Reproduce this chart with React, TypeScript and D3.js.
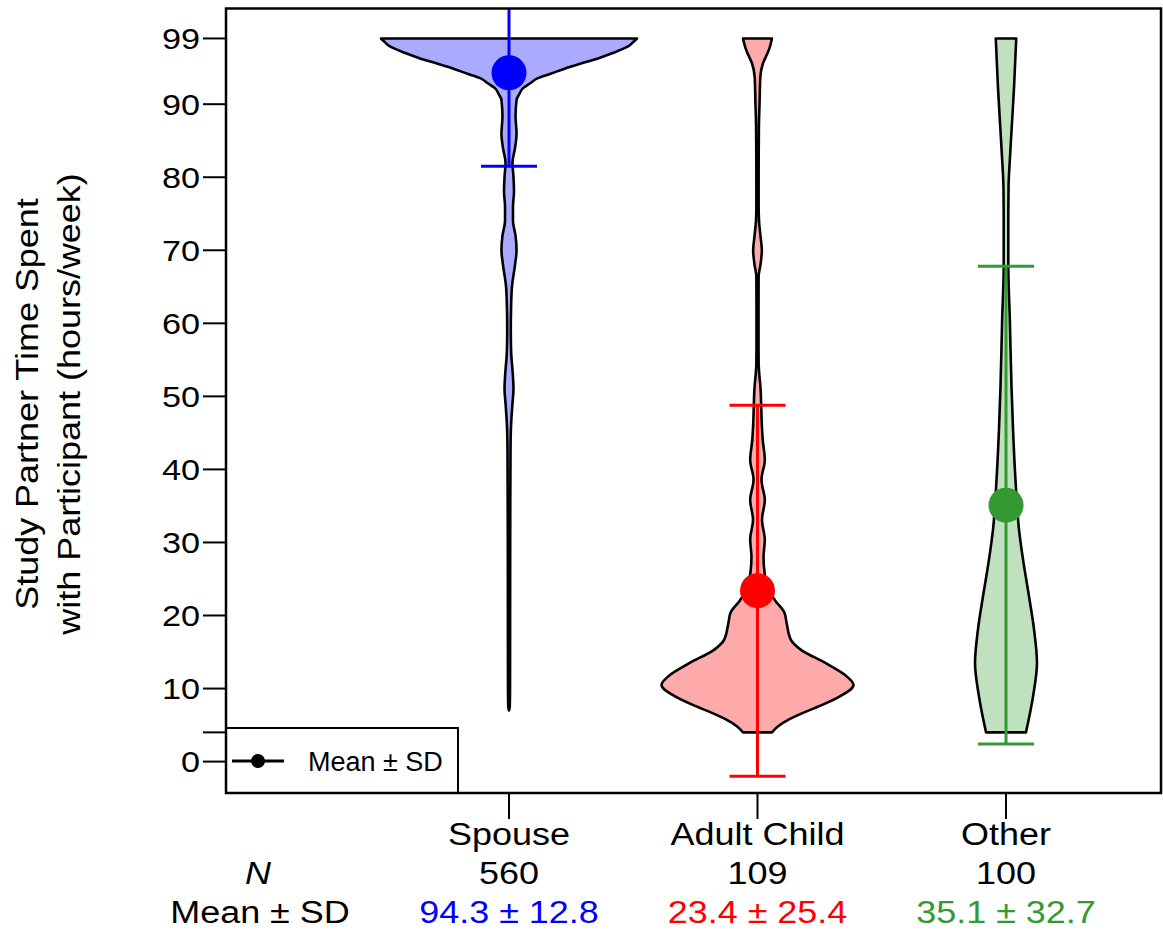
import React from "react";
import * as d3 from "d3";

const categories = ["Spouse", "Adult Child", "Other"];
const counts = [560, 109, 100];
const means = [94.3, 23.4, 35.1];
const sds = [12.8, 25.4, 32.7];
const lineColors = ["#0000FF", "#FF0000", "#339933"];
const fillColors = ["#AAAAFF", "#FFAAAA", "#C0E0C0"];

// [value (hours/week), relative density]
const spouseDensity: [number, number][] = [
  [7, 0], [7.5, 0.6], [10, 0.8], [15, 0.85], [25, 0.9], [35, 1.0], [43, 1.2], [46, 1.6],
  [49, 2.7], [51, 3.5], [53, 3.0], [56, 1.7], [59, 1.4], [62, 1.6], [65, 2.3], [68, 4.7],
  [70, 5.9], [72, 5.1], [74, 3.1], [76, 3.1], [78, 3.9], [80, 3.5], [82, 2.7], [84, 4.7],
  [86, 5.9], [88.3, 5.1], [90.6, 5.9], [91.3, 7.8], [92.2, 11], [92.8, 16], [93.6, 23],
  [94.2, 33], [94.9, 44], [95.5, 55], [96.3, 70], [97, 81], [97.9, 93], [98.5, 97], [99, 100],
];
const adultChildDensity: [number, number][] = [
  [4, 11.3], [4.8, 15.9], [5.8, 25], [6.7, 36], [7.5, 47], [8.9, 64], [10.5, 75], [11.7, 69.5],
  [13.5, 53], [15.3, 34], [16.7, 26], [19, 22.7], [20.4, 21], [22, 14], [23.5, 8.6],
  [25.9, 5.5], [28, 4.7], [30.4, 5.7], [33.1, 3.5], [35.8, 5.7], [38.6, 3.1], [41.3, 5.7],
  [44, 4.1], [46, 3.4], [48.6, 2.9], [51.3, 2.3], [53, 1.4], [54.5, 0.9], [57, 0.8], [62, 0.8],
  [66.4, 0.9], [68, 2.3], [70, 3.4], [72, 2.3], [74, 1.2], [76, 0.9], [80, 0.9], [87, 1.1],
  [90, 1.6], [93.7, 2.2], [95.6, 4.3], [96.9, 7.6], [97.5, 9], [99, 11.3],
];
const otherDensity: [number, number][] = [
  [4, 15.6], [8.9, 21.1], [13.5, 24.2], [18.1, 21.9], [22.6, 18], [27.2, 13.7], [31.7, 10.2],
  [38.6, 7.4], [45.4, 5.5], [51.3, 4.3], [60.5, 3.0], [67.7, 1.8], [74, 1.8], [78.7, 2.0],
  [83.3, 3.3], [87.8, 4.8], [92.4, 6.3], [99, 8],
];
const densities = [spouseDensity, adultChildDensity, otherDensity];

const yTickValues = [0, 4, 10, 20, 30, 40, 50, 60, 70, 80, 90, 99];
const yTickLabels = ["0", "", "10", "20", "30", "40", "50", "60", "70", "80", "90", "99"];

const FONT = "'Liberation Sans', Arial, Helvetica, sans-serif";

function SText({ x, y, anchor = "middle", size = 31, fill = "#000", italic = false, rotate = 0, sx = 1.16, children }: any) {
  return (
    <text
      transform={`translate(${x},${y}) rotate(${rotate}) scale(${sx},1)`}
      textAnchor={anchor}
      fontSize={size}
      fontFamily={FONT}
      fontStyle={italic ? "italic" : "normal"}
      fill={fill}
    >
      {children}
    </text>
  );
}

export default function App() {
  const W = 1163, H = 933;
  const left = 226, right = 1161, top = 8.5, bottom = 793;
  const y = d3.scaleLinear().domain([-4.3, 103.1]).range([bottom, top]);
  const x = d3.scalePoint<string>().domain(categories).range([509, 1006]);
  const w = d3.scaleLinear().domain([0, 100]).range([0, 128]);

  const violin = (cx: number) =>
    d3.area<[number, number]>()
      .y((d) => y(d[0]))
      .x0((d) => cx - w(d[1]))
      .x1((d) => cx + w(d[1]))
      .curve(d3.curveMonotoneY);

  return (
    <svg width={W} height={H} style={{ position: "absolute", left: 0, top: 0, background: "#fff" }}>
      <defs>
        <clipPath id="plotclip">
          <rect x={left} y={top} width={right - left} height={bottom - top} />
        </clipPath>
      </defs>
      <rect x={0} y={0} width={W} height={H} fill="#fff" />
      <g clipPath="url(#plotclip)">
        {categories.map((c, i) => (
          <path key={c} d={violin(x(c)!)(densities[i]) || ""} fill={fillColors[i]} stroke="#000" strokeWidth={2.6} strokeLinejoin="round" />
        ))}
        {categories.map((c, i) => {
          const cx = x(c)!;
          const lo = means[i] - sds[i];
          const hi = means[i] + sds[i];
          return (
            <g key={c} stroke={lineColors[i]} strokeWidth={3}>
              <line x1={cx} x2={cx} y1={y(lo)} y2={y(hi)} />
              <line x1={cx - 28} x2={cx + 28} y1={y(lo)} y2={y(lo)} />
              <line x1={cx - 28} x2={cx + 28} y1={y(hi)} y2={y(hi)} />
              <circle cx={cx} cy={y(means[i])} r={17.5} fill={lineColors[i]} stroke="none" />
            </g>
          );
        })}
      </g>
      {/* legend */}
      <rect x={left} y={728} width={232} height={bottom - 728} fill="#fff" stroke="#000" strokeWidth={2} />
      <line x1={232} x2={284} y1={761} y2={761} stroke="#000" strokeWidth={3} />
      <circle cx={258} cy={761} r={7} fill="#000" />
      <text x={308} y={771} fontSize={27} fontFamily={FONT}>Mean ± SD</text>
      {/* frame */}
      <rect x={left} y={top} width={right - left} height={bottom - top} fill="none" stroke="#000" strokeWidth={2.5} />
      {/* y axis */}
      {yTickValues.map((v, i) => (
        <g key={v}>
          <line x1={left - 23} x2={left} y1={y(v)} y2={y(v)} stroke="#000" strokeWidth={2} />
          {yTickLabels[i] && (
            <SText x={200} y={y(v) + 10.5} anchor="end" size={29} sx={1.18}>{yTickLabels[i]}</SText>
          )}
        </g>
      ))}
      <SText x={38} y={404} rotate={-90}>Study Partner Time Spent</SText>
      <SText x={80} y={404} rotate={-90}>with Participant (hours/week)</SText>
      {/* x axis */}
      {categories.map((c, i) => {
        const cx = x(c)!;
        return (
          <g key={c}>
            <line x1={cx} x2={cx} y1={bottom} y2={819} stroke="#000" strokeWidth={2} />
            <SText x={cx} y={845}>{c}</SText>
            <SText x={cx} y={884}>{String(counts[i])}</SText>
            <SText x={cx} y={923} fill={lineColors[i]}>{`${means[i].toFixed(1)} ± ${sds[i].toFixed(1)}`}</SText>
          </g>
        );
      })}
      <SText x={258} y={884} italic>N</SText>
      <SText x={260} y={923}>Mean ± SD</SText>
    </svg>
  );
}
